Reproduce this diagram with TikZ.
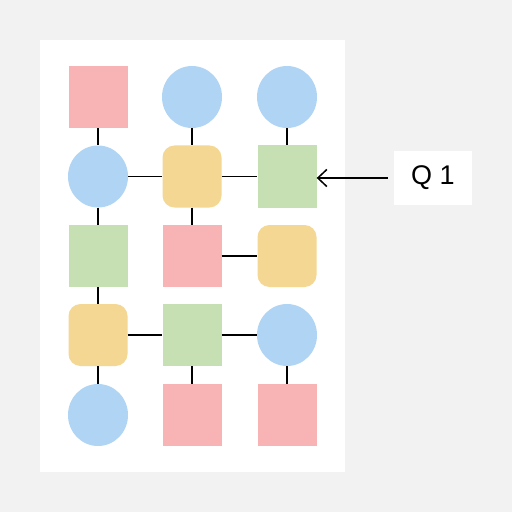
\documentclass[tikz,border=0pt]{standalone}
\usepackage{fontspec}
\setmainfont{Liberation Sans}
\usetikzlibrary{arrows.meta, shapes.geometric}
\definecolor{bggray}{HTML}{F2F2F2}
\definecolor{qred}{HTML}{F8B4B4}
\definecolor{qblue}{HTML}{B0D4F4}
\definecolor{qyellow}{HTML}{F5D794}
\definecolor{qgreen}{HTML}{C6E0B4}
\begin{document}
\begin{tikzpicture}[x=1bp, y=-1bp,
    sq/.style={rectangle, minimum width=59bp, minimum height=62bp, inner sep=0pt},
    redsq/.style={sq, fill=qred},
    greensq/.style={sq, fill=qgreen},
    yelsq/.style={sq, fill=qyellow, rounded corners=12bp},
    bluec/.style={ellipse, minimum width=60bp, minimum height=62bp, inner sep=0pt, fill=qblue},
    link/.style={line width=1.5bp}]
    % background and panel
    \fill[bggray] (0,0) rectangle (512,512);
    \fill[white] (40,40) rectangle (345,472);

    % row 1
    \node[redsq] (a1) at (98,97) {};
    \node[bluec] (a2) at (192,97) {};
    \node[bluec] (a3) at (287,97) {};
    % row 2
    \node[bluec] (b1) at (98,176.5) {};
    \node[yelsq] (b2) at (192,176.5) {};
    \node[greensq] (b3) at (287,176.5) {};
    % row 3
    \node[greensq] (c1) at (98,256) {};
    \node[redsq] (c2) at (192,256) {};
    \node[yelsq] (c3) at (287,256) {};
    % row 4
    \node[yelsq] (d1) at (98,335) {};
    \node[greensq] (d2) at (192,335) {};
    \node[bluec] (d3) at (287,335) {};
    % row 5
    \node[bluec] (e1) at (98,415) {};
    \node[redsq] (e2) at (192,415) {};
    \node[redsq] (e3) at (287,415) {};

    % links
    \draw[link] (a1) -- (b1);
    \draw[link] (a2) -- (b2);
    \draw[link] (a3) -- (b3);
    \draw[link] (b1) -- (b2);
    \draw[link] (b2) -- (b3);
    \draw[link] (b1) -- (c1);
    \draw[link] (b2) -- (c2);
    \draw[link] (c2) -- (c3);
    \draw[link] (c1) -- (d1);
    \draw[link] (d1) -- (d2);
    \draw[link] (d2) -- (d3);
    \draw[link] (d1) -- (e1);
    \draw[link] (d2) -- (e2);
    \draw[link] (d3) -- (e3);

    % query label
    \node[fill=white, minimum width=78bp, minimum height=54bp, inner sep=0pt,
          font=\fontsize{27bp}{30bp}\selectfont] (q1) at (433,178) {Q 1};
    \draw[link, -{Straight Barb[length=9bp, width=17bp]}, shorten <=6bp]
        (q1.west) -- (q1.west -| b3.east);
\end{tikzpicture}
\end{document}
